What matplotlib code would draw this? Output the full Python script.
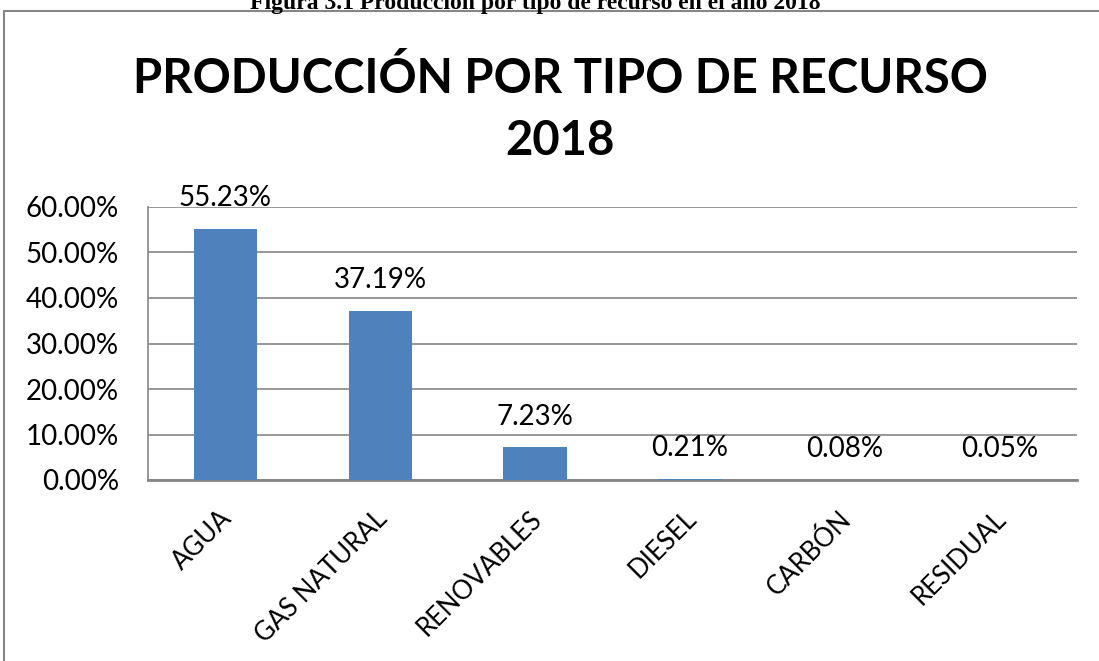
import matplotlib as mpl
mpl.use('Agg')
import matplotlib.pyplot as plt
from matplotlib.patches import Rectangle
from matplotlib.transforms import ScaledTranslation

categorias = ["AGUA", "GAS NATURAL", "RENOVABLES", "DIESEL", "CARBÓN", "RESIDUAL"]
porcentajes = [55.23, 37.19, 7.23, 0.21, 0.08, 0.05]
ticks_y = [0, 10, 20, 30, 40, 50, 60]

fuente = "Lato"
azul = "#4F81BD"
gris = "#868686"
W, H = 1099, 661

fig = plt.figure(figsize=(W / 100, H / 100), dpi=100)

# marco del grafico (como en Excel)
fig.patches.append(Rectangle((4 / W, -0.05), 1.2, (H - 11) / H + 0.05,
                             transform=fig.transFigure, fill=False,
                             edgecolor=gris, linewidth=1.5))

# leyenda de la figura, cortada arriba
fig.text(535 / W, 1 - 9 / H, "Figura 3.1 Producción por tipo de recurso en el año 2018",
         family="Liberation Serif", weight="bold", fontsize=17,
         ha="center", va="baseline")

fig.text(560 / W, 1 - 93 / H, "PRODUCCIÓN POR TIPO DE RECURSO",
         family=fuente, weight="bold", fontsize=34, ha="center", va="baseline")
fig.text(560 / W, 1 - 155 / H, "2018",
         family=fuente, weight="bold", fontsize=34, ha="center", va="baseline")

ax = fig.add_axes([148 / W, 181 / H, 929 / W, 273 / H])
x = range(len(categorias))
ax.bar(x, porcentajes, width=0.41, color=azul, zorder=3)
ax.set_xlim(-0.5, len(categorias) - 0.5)
ax.set_ylim(0, 60)
ax.set_yticks(ticks_y)
ax.set_yticklabels(["{:.2f}%".format(v) for v in ticks_y], family=fuente, fontsize=20)
ax.set_xticks(list(x))
ax.set_xticklabels([])
ax.tick_params(axis="y", length=0, pad=21)
ax.tick_params(axis="x", length=0)

# etiquetas de categoria giradas 45 grados
desplaz = ScaledTranslation(-6 / 100, -26 / 100, fig.dpi_scale_trans)
for i, cat in enumerate(categorias):
    ax.text(i, 0, cat, transform=ax.get_xaxis_transform() + desplaz,
            rotation=45, rotation_mode="anchor", ha="right", va="top",
            family=fuente, fontsize=18.5)

ax.grid(axis="y", color=gris, linewidth=1.2, zorder=0)
for s in ["top", "right"]:
    ax.spines[s].set_visible(False)
ax.spines["left"].set_color(gris)
ax.spines["left"].set_linewidth(1.2)
ax.spines["bottom"].set_color(gris)
ax.spines["bottom"].set_linewidth(2)

for i, v in enumerate(porcentajes):
    ax.annotate("{:.2f}%".format(v), (i, v), xytext=(0, 22), textcoords="offset points",
                ha="center", va="center", family=fuente, fontsize=20)

fig.savefig("out.png", dpi=100)
